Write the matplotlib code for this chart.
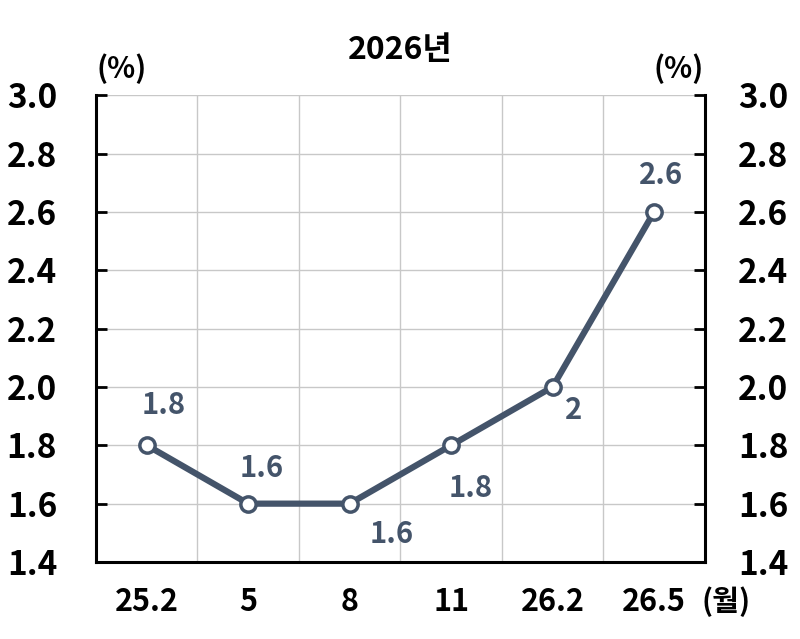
import matplotlib
matplotlib.use("Agg")
import matplotlib.pyplot as plt
import numpy as np

plt.rcParams['font.family'] = ['Noto Sans CJK KR', 'DejaVu Sans']

categories = ["25.2", "5", "8", "11", "26.2", "26.5"]
values = [1.8, 1.6, 1.6, 1.8, 2.0, 2.6]
value_labels = ["1.8", "1.6", "1.6", "1.8", "2", "2.6"]
label_offsets = [(17, 40), (13, 36), (42, -30), (20, -43), (21, -23), (7, 37)]
yticks = [1.4, 1.6, 1.8, 2.0, 2.2, 2.4, 2.6, 2.8, 3.0]

line_color = "#44546A"
grid_color = "#C8C8C8"

fig = plt.figure(figsize=(8, 6.39), dpi=100)
ax = fig.add_axes([0.12, 0.1205, 0.761, 0.7305])
x = np.arange(len(categories))

ax.set_xlim(-0.5, len(categories) - 0.5)
ax.set_ylim(1.4, 3.0)
ax.set_yticks(yticks)
ax.set_yticklabels([f"{v:.1f}" for v in yticks], fontsize=24, fontweight='bold')
ax.set_xticks(x)
ax.set_xticklabels(categories, fontsize=22, fontweight='bold')
ax.set_xticks(np.arange(len(categories) - 1) + 0.5, minor=True)

ax.grid(True, axis='y', which='major', color=grid_color, lw=1.0)
ax.grid(True, axis='x', which='minor', color=grid_color, lw=1.0)
ax.grid(False, axis='x', which='major')
ax.set_axisbelow(True)

ax.tick_params(axis='x', which='both', length=0, pad=17)
ax.tick_params(axis='y', direction='in', length=8, width=2, pad=28)

for s in ['left', 'bottom', 'right']:
    ax.spines[s].set_linewidth(2.2)
    ax.spines[s].set_color('black')
ax.spines['top'].set_visible(False)

ax2 = ax.twinx()
ax2.set_ylim(1.4, 3.0)
ax2.set_yticks(yticks)
ax2.set_yticklabels([f"{v:.1f}" for v in yticks], fontsize=24, fontweight='bold')
ax2.tick_params(axis='y', direction='in', length=8, width=2, pad=24)
for s in ['left', 'bottom', 'right', 'top']:
    ax2.spines[s].set_visible(False)

ax.plot(x, values, color=line_color, lw=4.5, marker='o', ms=11,
        mfc='white', mec=line_color, mew=2.5, zorder=5, clip_on=False)

for xi, v, t, (dx, dy) in zip(x, values, value_labels, label_offsets):
    ax.annotate(t, (xi, v), xytext=(dx, dy), textcoords='offset pixels',
                ha='center', va='center', fontsize=21, fontweight='bold',
                color=line_color)

fig.text(0.5, 0.921, "2026년", ha='center', va='center', fontsize=23, fontweight='bold')
fig.text(0.152, 0.893, "(%)", ha='center', va='center', fontsize=21, fontweight='bold')
fig.text(0.848, 0.893, "(%)", ha='center', va='center', fontsize=21, fontweight='bold')
fig.text(0.908, 0.059, "(월)", ha='center', va='center', fontsize=21, fontweight='bold')

fig.savefig("out.png", dpi=100)
